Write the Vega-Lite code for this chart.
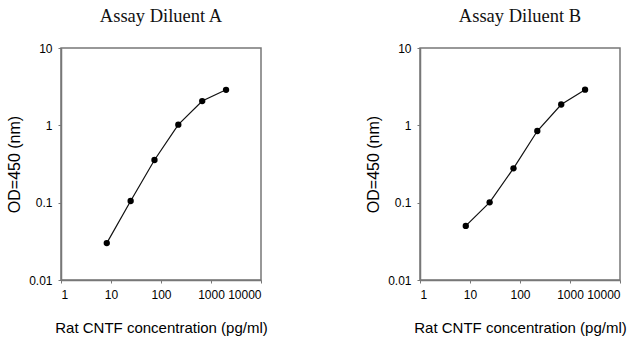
{
  "$schema": "https://vega.github.io/schema/vega-lite/v6.json",
  "padding": {"left": 5, "top": 5, "right": 0, "bottom": 0},
  "bounds": "flush",
  "spacing": 159,
  "background": "white",
  "datasets": {
    "a": [
      {"conc": 8.23, "od": 0.030},
      {"conc": 24.7, "od": 0.105},
      {"conc": 74.1, "od": 0.356},
      {"conc": 222, "od": 1.02},
      {"conc": 667, "od": 2.06},
      {"conc": 2000, "od": 2.88}
    ],
    "b": [
      {"conc": 8.23, "od": 0.050},
      {"conc": 24.7, "od": 0.101},
      {"conc": 74.1, "od": 0.278},
      {"conc": 222, "od": 0.845},
      {"conc": 667, "od": 1.86},
      {"conc": 2000, "od": 2.89}
    ]
  },
  "config": {
    "view": {"stroke": "#777777", "strokeWidth": 1.5},
    "title": {"font": "Liberation Serif", "fontSize": 18.5, "fontWeight": "normal", "color": "#111111", "offset": 17},
    "axis": {
      "domainColor": "#777777",
      "domainWidth": 1.5,
      "tickColor": "#777777",
      "tickSize": 3,
      "grid": false,
      "labelFont": "Liberation Sans",
      "labelFontSize": 12,
      "labelColor": "#000000",
      "titleFont": "Liberation Sans",
      "titleFontWeight": "normal",
      "titleColor": "#000000"
    }
  },
  "hconcat": [
    {
      "title": "Assay Diluent A",
      "width": 200,
      "height": 232,
      "data": {"name": "a"},
      "layer": [
        {"mark": {"type": "line", "color": "#111111", "strokeWidth": 1.2}},
        {"mark": {"type": "point", "filled": true, "color": "#000000", "size": 40, "opacity": 1}}
      ],
      "encoding": {
        "x": {"field": "conc", "type": "quantitative", "scale": {"type": "log", "domain": [1, 10000]},
              "axis": {"values": [1, 10, 100, 1000, 10000], "format": "~g", "labelPadding": 6, "title": "Rat CNTF concentration (pg/ml)", "titleFontSize": 15, "titlePadding": 20}},
        "y": {"field": "od", "type": "quantitative", "scale": {"type": "log", "domain": [0.01, 10]},
              "axis": {"values": [0.01, 0.1, 1, 10], "format": "~g", "labelPadding": 6, "title": "OD=450 (nm)", "titleFontSize": 16, "titlePadding": 6}}
      }
    },
    {
      "title": "Assay Diluent B",
      "width": 200,
      "height": 232,
      "data": {"name": "b"},
      "layer": [
        {"mark": {"type": "line", "color": "#111111", "strokeWidth": 1.2}},
        {"mark": {"type": "point", "filled": true, "color": "#000000", "size": 40, "opacity": 1}}
      ],
      "encoding": {
        "x": {"field": "conc", "type": "quantitative", "scale": {"type": "log", "domain": [1, 10000]},
              "axis": {"values": [1, 10, 100, 1000, 10000], "format": "~g", "labelPadding": 6, "title": "Rat CNTF concentration (pg/ml)", "titleFontSize": 15, "titlePadding": 20}},
        "y": {"field": "od", "type": "quantitative", "scale": {"type": "log", "domain": [0.01, 10]},
              "axis": {"values": [0.01, 0.1, 1, 10], "format": "~g", "labelPadding": 6, "title": "OD=450 (nm)", "titleFontSize": 16, "titlePadding": 6}}
      }
    }
  ]
}
